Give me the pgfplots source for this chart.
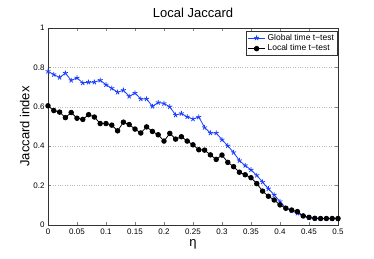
\documentclass[border=0pt]{standalone}
\usepackage{fontspec}
\setmainfont{Liberation Sans}
\usepackage{pgfplots}
\pgfplotsset{compat=1.18}
\definecolor{mblue}{RGB}{25,60,255}
\begin{document}
\begin{tikzpicture}[x=1pt,y=1pt]
\path[use as bounding box] (-48,-34) rectangle (326,225);
\begin{axis}[
  at={(0,0)}, anchor=south west,
  scale only axis, width=290pt, height=197pt,
  xmin=0, xmax=0.5, ymin=0, ymax=1,
  xtick={0,0.05,0.1,0.15,0.2,0.25,0.3,0.35,0.4,0.45,0.5},
  xticklabels={0,0.05,0.1,0.15,0.2,0.25,0.3,0.35,0.4,0.45,0.5},
  ytick={0,0.2,0.4,0.6,0.8,1},
  yticklabels={0,0.2,0.4,0.6,0.8,1},
  tick label style={font=\fontsize{8}{9}\selectfont},
  tick align=inside, tick pos=both,
  major tick length=3pt,
  ymajorgrids, grid style={dotted, gray!55, line width=0.5pt},
  axis line style={black!80, line width=0.5pt},
  title={Local Jaccard}, title style={font=\fontsize{13}{14}\selectfont, yshift=1pt},
  xlabel={η}, ylabel={Jaccard index},
  xlabel style={font=\fontsize{13}{14}\selectfont, yshift=2pt},
  ylabel style={font=\fontsize{13}{14}\selectfont, yshift=-3pt},
  legend style={at={(0.997,0.985)}, anchor=north east, font=\fontsize{8.5}{9}\selectfont,
    draw=black!80, inner sep=1pt, row sep=-1pt, line width=0.4pt},
  legend cell align=left,
]
\addplot[mblue, line width=0.8pt, mark=star, mark size=2.6pt, mark options={line width=0.8pt}] coordinates {
(0.00,0.780)(0.01,0.764)(0.02,0.749)(0.03,0.771)(0.04,0.734)(0.05,0.747)(0.06,0.721)(0.07,0.725)(0.08,0.725)(0.09,0.735)
(0.10,0.712)(0.11,0.694)(0.12,0.674)(0.13,0.684)(0.14,0.653)(0.15,0.670)(0.16,0.640)(0.17,0.640)(0.18,0.602)(0.19,0.622)
(0.20,0.617)(0.21,0.600)(0.22,0.558)(0.23,0.566)(0.24,0.549)(0.25,0.538)(0.26,0.548)(0.27,0.495)(0.28,0.467)(0.29,0.467)
(0.30,0.433)(0.31,0.402)(0.32,0.368)(0.33,0.327)(0.34,0.302)(0.35,0.280)(0.36,0.252)(0.37,0.218)(0.38,0.184)(0.39,0.153)
(0.40,0.119)(0.41,0.087)(0.42,0.072)(0.43,0.060)(0.44,0.046)(0.45,0.036)(0.46,0.033)(0.47,0.032)(0.48,0.032)(0.49,0.032)(0.50,0.032)
};
\addlegendentry{Global time t−test}
\addplot[black, line width=0.8pt, mark=*, mark size=2.3pt] coordinates {
(0.00,0.605)(0.01,0.581)(0.02,0.573)(0.03,0.545)(0.04,0.571)(0.05,0.542)(0.06,0.536)(0.07,0.560)(0.08,0.548)(0.09,0.515)
(0.10,0.515)(0.11,0.507)(0.12,0.478)(0.13,0.522)(0.14,0.510)(0.15,0.487)(0.16,0.467)(0.17,0.498)(0.18,0.475)(0.19,0.458)
(0.20,0.426)(0.21,0.465)(0.22,0.436)(0.23,0.448)(0.24,0.426)(0.25,0.407)(0.26,0.382)(0.27,0.380)(0.28,0.356)(0.29,0.333)
(0.30,0.355)(0.31,0.318)(0.32,0.296)(0.33,0.268)(0.34,0.255)(0.35,0.240)(0.36,0.210)(0.37,0.172)(0.38,0.146)(0.39,0.127)
(0.40,0.102)(0.41,0.085)(0.42,0.076)(0.43,0.068)(0.44,0.046)(0.45,0.039)(0.46,0.034)(0.47,0.033)(0.48,0.033)(0.49,0.033)(0.50,0.033)
};
\addlegendentry{Local time t−test}
\end{axis}
\end{tikzpicture}
\end{document}
